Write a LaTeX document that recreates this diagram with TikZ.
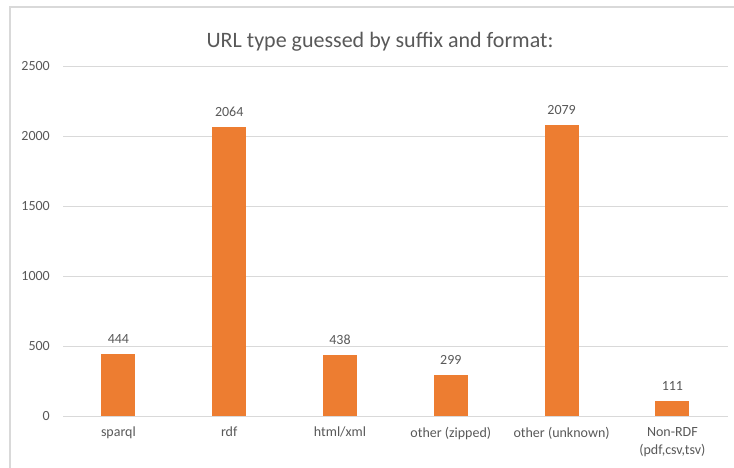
\documentclass[tikz,border=0pt]{standalone}
\usepackage{fontspec}
\setmainfont{Carlito}
\definecolor{barorange}{HTML}{ED7D31}
\definecolor{gridgray}{HTML}{D9D9D9}
\definecolor{textgray}{HTML}{595959}
\begin{document}
\begin{tikzpicture}[x=1pt,y=-1pt,
  gridline/.style={draw=gridgray,line width=1pt},
  bar/.style={fill=barorange,draw=none},
  ticklabel/.style={text=textgray,font=\fontsize{14}{16}\selectfont,anchor=east,inner sep=0pt},
  vallabel/.style={text=textgray,font=\fontsize{14}{16}\selectfont,inner sep=0pt},
  catlabel/.style={text=textgray,font=\fontsize{14}{18}\selectfont,inner sep=0pt,align=center,anchor=north},
  charttitle/.style={text=textgray,font=\fontsize{22}{26}\selectfont,inner sep=0pt}]
\useasboundingbox (0,0) rectangle (734,468);
\fill[white] (0,0) rectangle (734,468);
% chart frame (top and left edges lie inside the page)
\draw[gridgray,line width=1.2pt] (10,480) -- (10,7) -- (740,7);
% title
\node[charttitle] (title) at (380,42) {URL type guessed by suffix and format:};
% horizontal grid and value axis labels
\foreach \v in {0,500,1000,1500,2000,2500}{
  \pgfmathsetmacro{\yy}{416.5-0.1402*\v}
  \draw[gridline] (63,\yy) -- (728,\yy);
  \node[ticklabel] (tick\v) at (50,\yy) {\v};
}
% bars with value labels
\foreach \i/\v/\nm in {0/444/sparql,1/2064/rdf,2/438/html,3/299/zipped,4/2079/unknown,5/111/nonrdf}{
  \pgfmathsetmacro{\xc}{118.4+110.8*\i}
  \pgfmathsetmacro{\yt}{416.5-0.1402*\v}
  \fill[bar] (\xc-17,416) rectangle (\xc+17,\yt);
  \node[vallabel] (val\nm) at (\xc,\yt-15) {\v};
}
% category labels
\node[catlabel] (csparql) at (118.4,427) {sparql};
\node[catlabel] (crdf) at (229.2,427) {rdf};
\node[catlabel] (chtml) at (340.0,427) {html/xml};
\node[catlabel] (czipped) at (450.8,427) {other (zipped)};
\node[catlabel] (cunknown) at (561.6,427) {other (unknown)};
\node[catlabel] (cnonrdf) at (672.4,427) {Non-RDF\\(pdf,csv,tsv)};
\end{tikzpicture}
\end{document}
